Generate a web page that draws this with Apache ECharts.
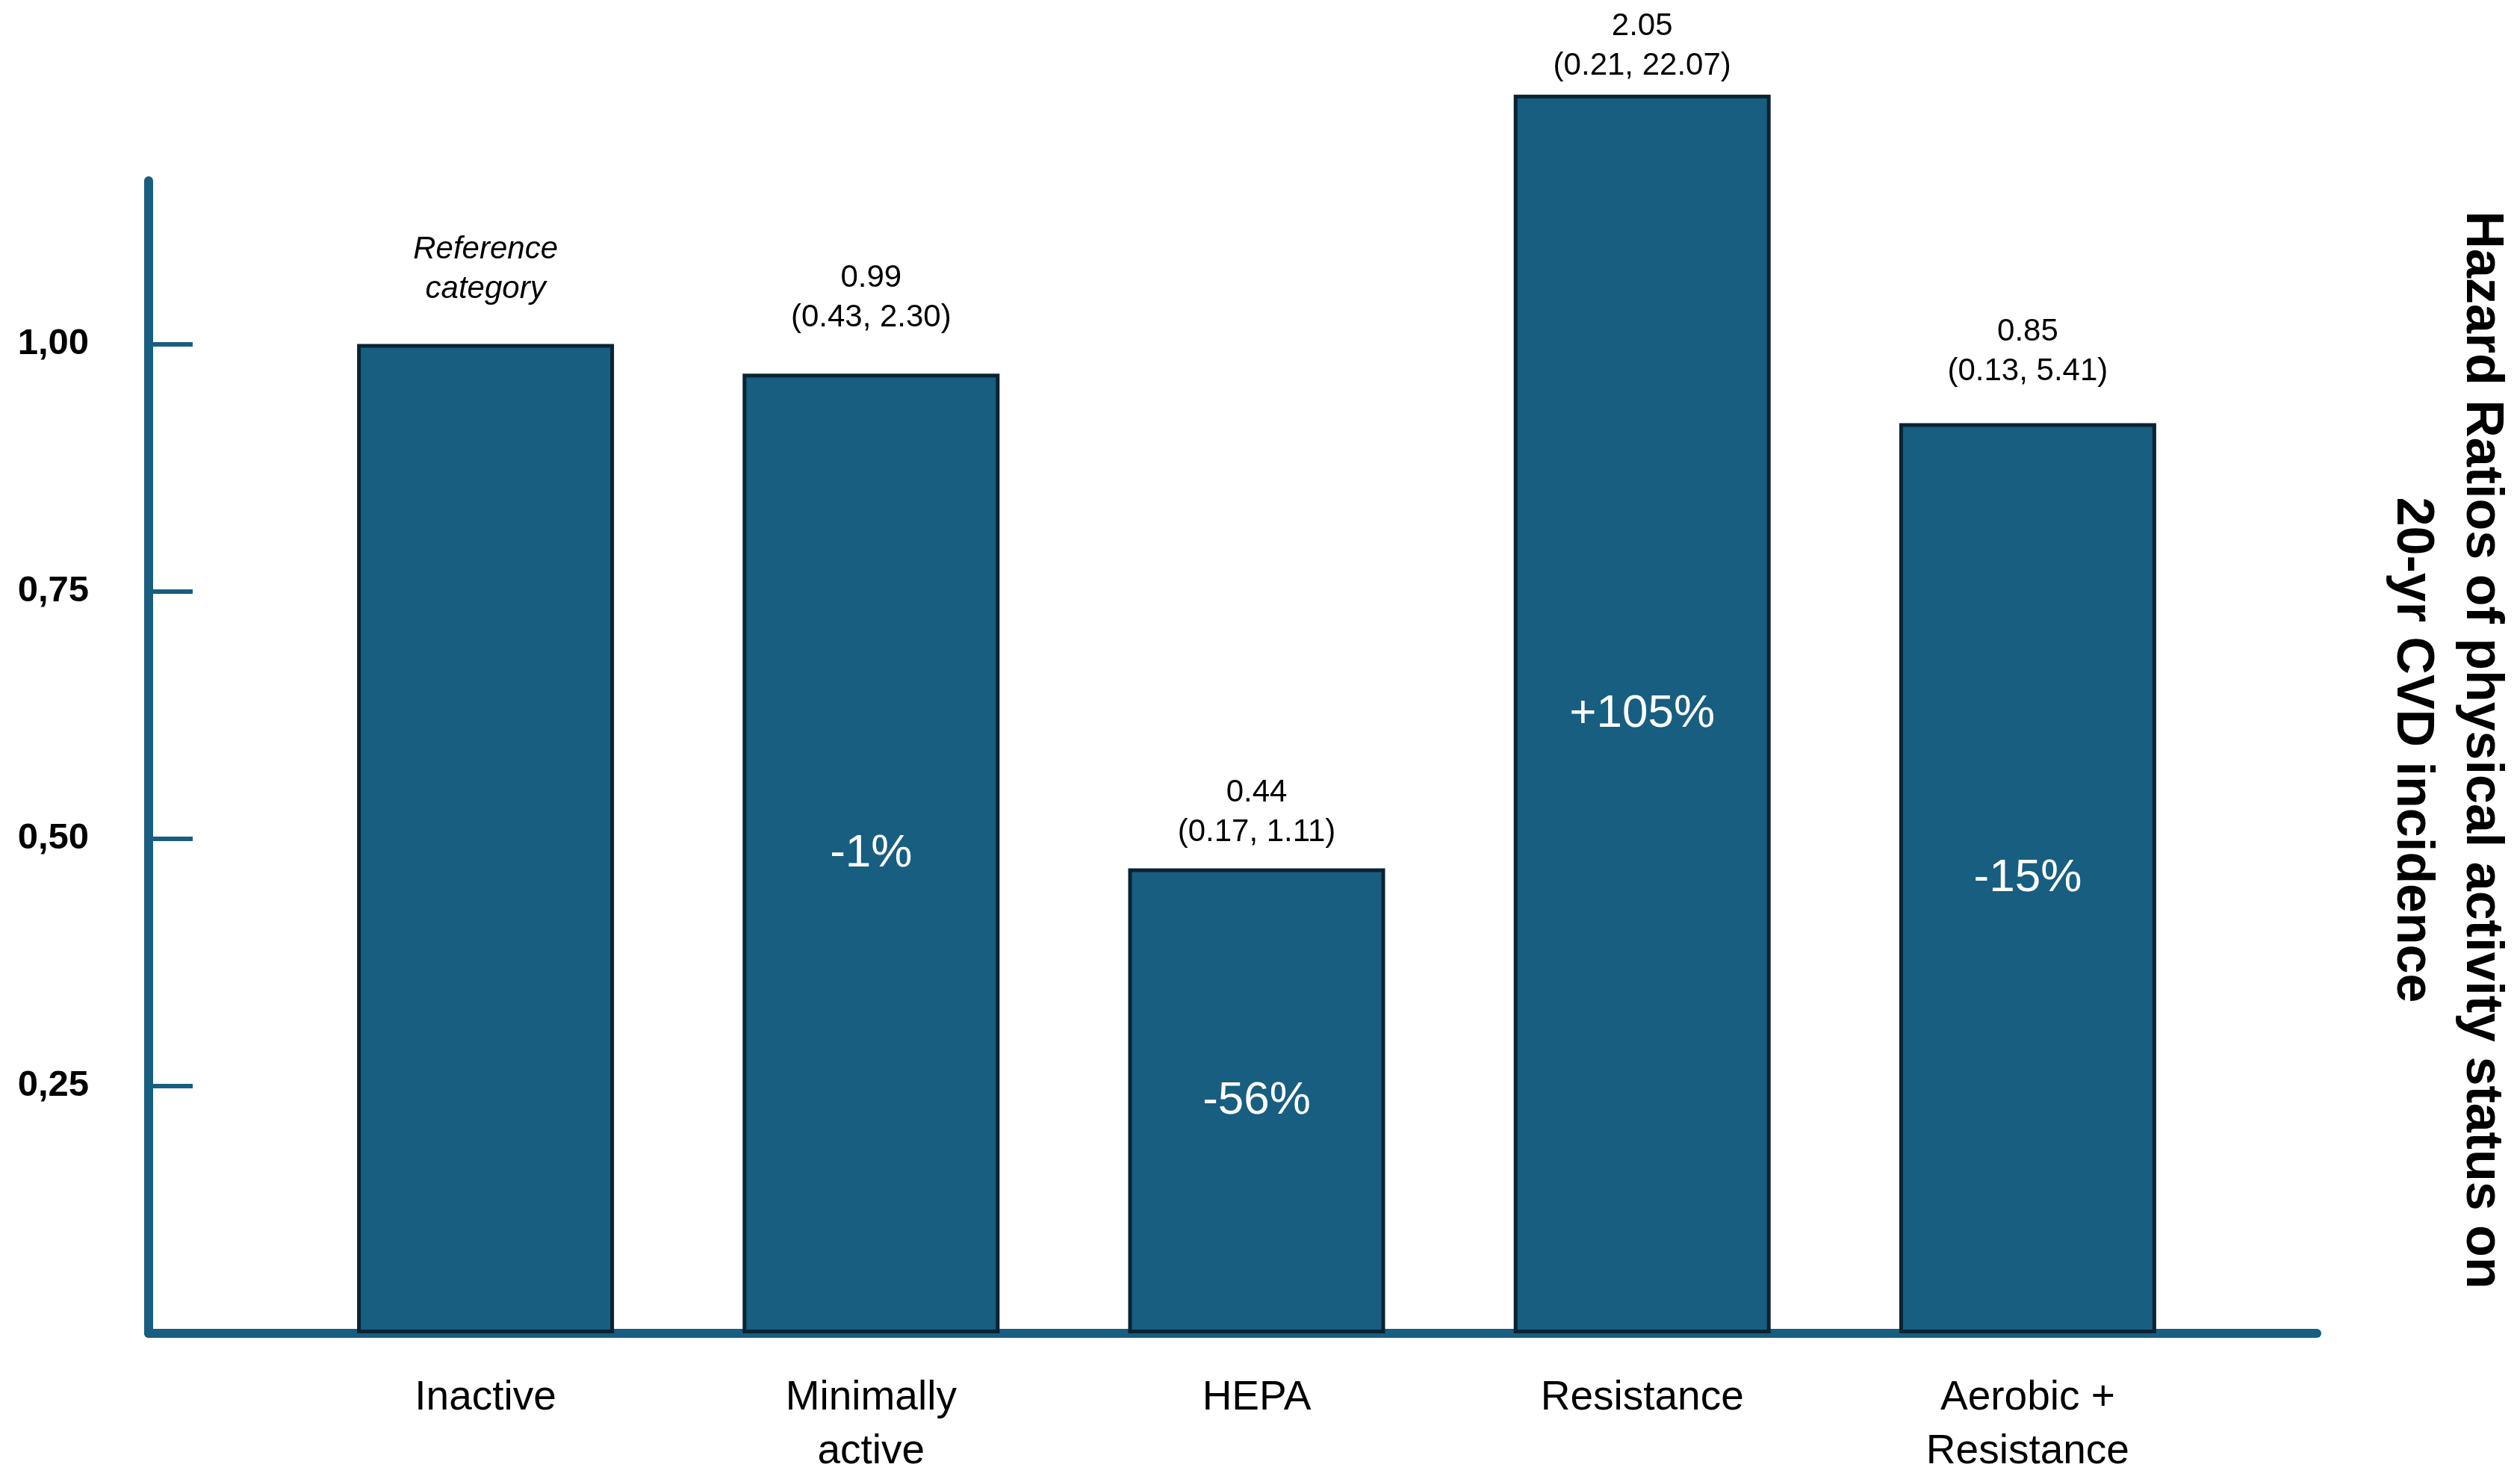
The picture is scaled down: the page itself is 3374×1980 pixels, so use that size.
<!DOCTYPE html>
<html>
<head>
<meta charset="utf-8">
<script src="https://cdn.jsdelivr.net/npm/echarts@6/dist/echarts.min.js"></script>
<style>
html,body{margin:0;padding:0;background:#fff;}
#chart{width:3374px;height:1980px;}
</style>
</head>
<body>
<div id="chart"></div>
<script>
// ---- data ----
const categories = ['Inactive', 'Minimally\nactive', 'HEPA', 'Resistance', 'Aerobic +\nResistance'];
// bar heights as drawn in the figure (hazard ratio axis)
const barHeights = [1.00, 0.97, 0.47, 1.252, 0.92];
const hazardRatios = ['', '0.99', '0.44', '2.05', '0.85'];
const confIntervals = ['', '(0.43, 2.30)', '(0.17, 1.11)', '(0.21, 22.07)', '(0.13, 5.41)'];
const referenceNote = ['Reference', 'category'];
const pctChange = ['', '-1%', '-56%', '+105%', '-15%'];
const yTicks = [0.25, 0.50, 0.75, 1.00];
const titleLines = ['Hazard Ratios of physical activity status on', '20-yr CVD incidence'];

// ---- styling ----
const FILL = '#175e80';
const BORDER = '#0a2333';
const AXIS = '#175e80';
const FONT = '"Liberation Sans", Arial, sans-serif';
const topLabelGap = [47, 48, 22, 12, 43];
const yMax = 1.165;

const chart = echarts.init(document.getElementById('chart'), null, {renderer: 'canvas'});

const barData = barHeights.map((v, i) => ({
  value: v,
  label: {distance: topLabelGap[i]}
}));

const option = {
  backgroundColor: '#fff',
  animation: false,
  grid: [
    {left: 199, right: 272, top: 242, bottom: 195},
    {left: 392, right: 401, top: 242, bottom: 195}
  ],
  xAxis: [
    {
      type: 'category', gridIndex: 0, data: categories,
      axisLine: {show: true, lineStyle: {color: AXIS, width: 12}},
      axisTick: {show: false}, axisLabel: {show: false}, splitLine: {show: false}
    },
    {
      type: 'category', gridIndex: 1, data: categories,
      axisLine: {show: false}, axisTick: {show: false},
      axisLabel: {
        show: true, color: '#000', fontFamily: FONT, fontSize: 55,
        lineHeight: 72, margin: 51, interval: 0
      }
    }
  ],
  yAxis: [
    {
      type: 'value', gridIndex: 0, min: 0, max: yMax, interval: 0.25,
      axisLine: {show: true, lineStyle: {color: AXIS, width: 12}},
      axisTick: {show: true, inside: true, length: 59, lineStyle: {color: AXIS, width: 6}, customValues: yTicks},
      axisLabel: {
        show: true, customValues: yTicks, color: '#000', fontFamily: FONT,
        fontWeight: 'bold', fontSize: 49, margin: 80,
        formatter: v => v.toFixed(2).replace('.', ',')
      },
      splitLine: {show: false}
    },
    {
      type: 'value', gridIndex: 1, min: 0, max: yMax, interval: 0.25,
      axisLine: {show: false}, axisTick: {show: false}, axisLabel: {show: false}, splitLine: {show: false}
    }
  ],
  series: [
    {
      type: 'bar', xAxisIndex: 1, yAxisIndex: 1, data: barData,
      barWidth: 344, clip: false, z: 2,
      itemStyle: {color: FILL, borderColor: BORDER, borderWidth: 5},
      label: {
        show: true, position: 'top', color: '#000', fontFamily: FONT,
        formatter: p => {
          const i = p.dataIndex;
          if (!hazardRatios[i]) return referenceNote.map(t => '{i|' + t + '}').join('\n');
          return '{n|' + hazardRatios[i] + '}\n{n|' + confIntervals[i] + '}';
        },
        rich: {
          n: {fontFamily: FONT, fontSize: 42, lineHeight: 53, color: '#000'},
          i: {fontFamily: FONT, fontSize: 42, lineHeight: 53, color: '#000', fontStyle: 'italic'}
        }
      }
    },
    {
      type: 'bar', xAxisIndex: 1, yAxisIndex: 1, data: barHeights,
      barWidth: 344, barGap: '-100%', clip: false, z: 3,
      itemStyle: {color: 'rgba(0,0,0,0)'},
      label: {
        show: true, position: 'inside', color: '#fff', fontFamily: FONT, fontSize: 62,
        formatter: p => pctChange[p.dataIndex]
      }
    }
  ],
  graphic: [
    {
      type: 'text', x: 3276, y: 1004, rotation: -Math.PI / 2,
      style: {
        text: titleLines.join('\n'), fill: '#000',
        fontFamily: FONT, fontWeight: 'bold', fontSize: 70, lineHeight: 93,
        align: 'center', verticalAlign: 'middle'
      }
    }
  ]
};
chart.setOption(option);
</script>
</body>
</html>
